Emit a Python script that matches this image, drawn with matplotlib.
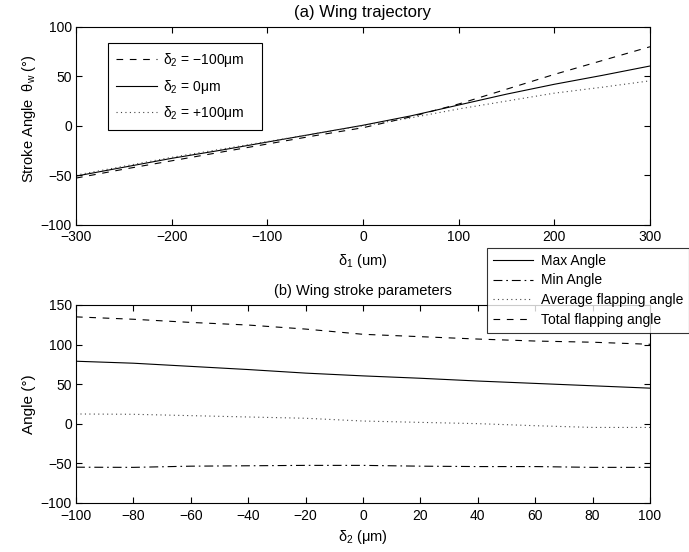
import matplotlib
matplotlib.use("Agg")
import matplotlib.pyplot as plt
from matplotlib.patches import Rectangle

plt.rcParams['font.family'] = ['Liberation Sans', 'DejaVu Sans']
plt.rcParams['mathtext.fontset'] = 'custom'
plt.rcParams['mathtext.rm'] = 'Liberation Sans'
plt.rcParams['mathtext.it'] = 'Liberation Sans'
plt.rcParams['mathtext.sf'] = 'Liberation Sans'
plt.rcParams['axes.unicode_minus'] = True

# ---- data: (a) wing trajectory ----
delta1 = [-300, -250, -200, -150, -100, -50, 0, 50, 100, 150, 200, 250, 300]
theta_m100 = [-53, -44, -35.5, -27, -18.5, -10, -2, 9, 22, 37, 52, 66, 80]
theta_0 = [-51, -42, -33, -25, -16.5, -8, 0.5, 10, 21, 32, 42, 51, 60.5]
theta_p100 = [-50, -41, -32, -24, -16, -8, 0, 8, 17, 25, 33, 39, 45.5]
labels_a = [r'δ$_2$ = −100μm', r'δ$_2$ = 0μm', r'δ$_2$ = +100μm']

# ---- data: (b) wing stroke parameters ----
delta2 = [-100, -80, -60, -40, -20, 0, 20, 40, 60, 80, 100]
max_angle = [79, 76.5, 72.5, 68.5, 64, 60.5, 57.5, 54, 51, 48, 45]
min_angle = [-54.8, -55, -53.5, -53, -52.5, -52.5, -53.5, -54, -54, -55, -55]
avg_angle = [12.4, 12, 10.3, 8.6, 7, 3.5, 1.8, 0.2, -2.4, -4.6, -4.6]
total_angle = [135, 132, 128, 124.7, 119.6, 113, 110, 107, 104.5, 103, 100.4]
labels_b = ['Max Angle', 'Min Angle', 'Average flapping angle', 'Total flapping angle']

W, H = 689, 552
FS = 10      # tick labels and legends
LFS = 10.5   # axis labels
fig = plt.figure(figsize=(W/100, H/100), dpi=100)
ax1 = fig.add_axes([76/W, 1-224.5/H, 574/W, 197.5/H])
ax2 = fig.add_axes([76/W, 1-503/H, 574/W, 198/H])

dash = (0, (6, 6))
dot = (0, (1, 3))
dashdot = (0, (8, 3.5, 1.5, 3.5))
lw = 0.8

ax1.plot(delta1, theta_m100, color='black', lw=lw, linestyle=dash, label=labels_a[0])
ax1.plot(delta1, theta_0, color='black', lw=lw, linestyle='-', label=labels_a[1])
ax1.plot(delta1, theta_p100, color='#444444', lw=lw, linestyle=dot, label=labels_a[2])
ax1.set_xlim(-300, 300)
ax1.set_ylim(-100, 100)
ax1.set_xticks(range(-300, 301, 100))
ax1.set_yticks(range(-100, 101, 50))
ax1.set_title('(a) Wing trajectory', fontsize=12, pad=7)
ax1.set_xlabel(r'δ$_1$ (um)', fontsize=LFS, labelpad=6)
ax1.set_ylabel(r'Stroke Angle  θ$_w$ (°)', fontsize=LFS)
ax1.yaxis.set_label_coords(-0.066, 0.534)

# legend frame of panel (a): wider box with extra right padding
frame1 = Rectangle((108/W, 1-130/H), 154/W, 87/H, transform=fig.transFigure,
                   facecolor='white', edgecolor='black', linewidth=0.8, zorder=4.9)
ax1.add_patch(frame1)
frame1.set_clip_on(False)
leg1 = ax1.legend(loc='upper left', bbox_to_anchor=(108/W, 1-43/H),
                  bbox_transform=fig.transFigure,
                  fontsize=FS, frameon=False, handlelength=2.95,
                  handletextpad=0.4, labelspacing=0.6, borderaxespad=0, borderpad=0.6)
leg1.set_zorder(5)

ax2.plot(delta2, max_angle, color='black', lw=lw, linestyle='-', label=labels_b[0])
ax2.plot(delta2, min_angle, color='black', lw=lw, linestyle=dashdot, label=labels_b[1])
ax2.plot(delta2, avg_angle, color='#444444', lw=lw, linestyle=dot, label=labels_b[2])
ax2.plot(delta2, total_angle, color='black', lw=lw, linestyle=dash, label=labels_b[3])
ax2.set_xlim(-100, 100)
ax2.set_ylim(-100, 150)
ax2.set_xticks(range(-100, 101, 20))
ax2.set_yticks(range(-100, 151, 50))
ax2.set_title('(b) Wing stroke parameters', fontsize=10.5, pad=7)
ax2.set_xlabel(r'δ$_2$ (μm)', fontsize=LFS, labelpad=4)
ax2.set_ylabel('Angle (°)', fontsize=LFS + 0.5, labelpad=3)
leg2 = ax2.legend(loc='upper left', bbox_to_anchor=(487/W, 1-248/H),
                  bbox_transform=fig.transFigure,
                  fontsize=FS, frameon=True, fancybox=False, handlelength=2.9,
                  handletextpad=0.6, labelspacing=0.42, borderaxespad=0, borderpad=0.4)
leg2.get_frame().set_edgecolor('black')
leg2.get_frame().set_linewidth(0.8)
leg2.set_zorder(10)

for ax in (ax1, ax2):
    ax.tick_params(direction='in', top=True, right=True, length=4, width=0.8,
                   labelsize=FS, pad=3)
    ax.tick_params(axis='x', pad=4)
    for s in ax.spines.values():
        s.set_linewidth(0.8)

fig.savefig('out.png', dpi=100)
